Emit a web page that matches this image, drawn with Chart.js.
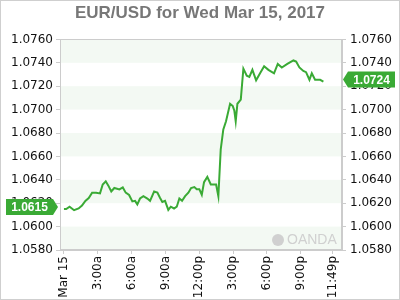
<!DOCTYPE html>
<html>
<head>
<meta charset="utf-8">
<script src="https://cdn.jsdelivr.net/npm/chart.js@4"></script>
<style>
  html, body { margin: 0; padding: 0; background: #fff; }
  #wrap { width: 400px; height: 300px; position: relative; }
</style>
</head>
<body>
<div id="wrap"><canvas id="chart"></canvas></div>
<script>
// hours since midnight, Mar 15
const times = [0, 0.2, 0.5, 0.9, 1.3, 1.6, 1.9, 2.2, 2.5, 2.85, 3.2, 3.44, 3.71, 3.94, 4.2, 4.47,
  4.92, 5.22, 5.48, 5.78, 6.07, 6.31, 6.51, 6.75, 7.05, 7.4, 7.64, 8.0, 8.29, 8.53, 8.73, 8.97,
  9.26, 9.48, 9.77, 10.01, 10.24, 10.48, 10.75, 11.04, 11.28, 11.57, 11.78, 12.01, 12.23, 12.43,
  12.72, 13.03, 13.5, 13.7, 13.91, 14.14, 14.38, 14.74, 14.98, 15.12, 15.24, 15.39, 15.69, 15.92,
  16.22, 16.45, 16.72, 17.05, 17.4, 17.76, 18.14, 18.64, 18.97, 19.33, 19.82, 20.36, 20.6, 20.89,
  21.24, 21.48, 21.78, 21.99, 22.28, 22.73, 23.02];
const rates = [1.0615, 1.0615, 1.0617, 1.0614, 1.06155, 1.0618, 1.0622, 1.06244, 1.0629, 1.0629,
  1.06284, 1.0636, 1.06387, 1.0635, 1.0630, 1.0633, 1.06318, 1.06335, 1.0629, 1.0627, 1.06215,
  1.0622, 1.0619, 1.0624, 1.0626, 1.0624, 1.0622, 1.0630, 1.0629, 1.06244, 1.0621, 1.0622,
  1.06143, 1.0617, 1.06155, 1.0617, 1.0624, 1.0622, 1.0626, 1.0629, 1.0633, 1.06338, 1.0632,
  1.0632, 1.06272, 1.0638, 1.06425, 1.0636, 1.0636, 1.0626, 1.0666, 1.0683, 1.0690, 1.0705,
  1.0703, 1.0699, 1.0690, 1.0705, 1.07085, 1.0735, 1.0729, 1.0728, 1.0734, 1.0725, 1.0731,
  1.0737, 1.0734, 1.0731, 1.0739, 1.0736, 1.0739, 1.0742, 1.0741, 1.0736, 1.0733, 1.0732,
  1.07255, 1.0731, 1.07255, 1.07255, 1.0724];

const yTicks = [1.058, 1.060, 1.062, 1.064, 1.066, 1.068, 1.070, 1.072, 1.074, 1.076];
const xTickHours = [0, 3, 6, 9, 12, 15, 18, 21, 23.82];
const xTickLabels = ['Mar 15', '3:00a', '6:00a', '9:00a', '12:00p', '3:00p', '6:00p', '9:00p', '11:49p'];

const green = '#3aaa35';

Chart.defaults.font.family = 'DejaVu Sans';
Chart.defaults.font.size = 12;
Chart.defaults.color = '#111';

function setYTicks(scale) {
  scale.ticks = yTicks.map(v => ({ value: v }));
}

const bands = {
  id: 'bands',
  beforeDraw(chart) {
    const { ctx, chartArea: a, scales: { y } } = chart;
    ctx.save();
    const desc = yTicks.slice().reverse();
    for (let i = 0; i < desc.length - 1; i++) {
      if (i % 2 !== 0) continue;
      const t = y.getPixelForValue(desc[i]);
      const b = y.getPixelForValue(desc[i + 1]);
      ctx.fillStyle = '#f3f9f3';
      ctx.fillRect(a.left, t, a.right - a.left, b - t);
    }
    ctx.restore();
  }
};

function marker(ctx, x, y, text, pointLeft) {
  const w = 47, h = 16, tip = 5;
  ctx.save();
  ctx.fillStyle = green;
  ctx.beginPath();
  if (pointLeft) {
    ctx.moveTo(x, y);
    ctx.lineTo(x + tip, y - h / 2);
    ctx.lineTo(x + tip + w, y - h / 2);
    ctx.lineTo(x + tip + w, y + h / 2);
    ctx.lineTo(x + tip, y + h / 2);
  } else {
    ctx.moveTo(x, y);
    ctx.lineTo(x - tip, y - h / 2);
    ctx.lineTo(x - tip - w, y - h / 2);
    ctx.lineTo(x - tip - w, y + h / 2);
    ctx.lineTo(x - tip, y + h / 2);
  }
  ctx.closePath();
  ctx.fill();
  ctx.fillStyle = '#fff';
  ctx.font = 'bold 12px "Liberation Sans", Arial, sans-serif';
  ctx.textAlign = 'center';
  ctx.textBaseline = 'middle';
  const cx = pointLeft ? x + tip + w / 2 : x - tip - w / 2;
  ctx.fillText(text, cx, y + 1);
  ctx.restore();
}

const extras = {
  id: 'extras',
  afterDraw(chart) {
    const { ctx, chartArea: a, scales: { y } } = chart;
    ctx.save();
    // plot frame
    ctx.strokeStyle = '#ccc';
    ctx.lineWidth = 1;
    ctx.strokeRect(Math.round(a.left) + 0.5, Math.round(a.top) + 0.5,
      Math.round(a.right - a.left) - 1, Math.round(a.bottom - a.top) - 1);
    // outer frame
    ctx.strokeStyle = '#cfcfcf';
    ctx.strokeRect(0.5, 0.5, chart.width - 1, chart.height - 1);
    // watermark
    ctx.fillStyle = '#d0d0d0';
    ctx.beginPath();
    ctx.arc(a.right - 64, a.bottom - 10, 6, 0, Math.PI * 2);
    ctx.fill();
    ctx.font = '14px "Liberation Sans", Arial, sans-serif';
    ctx.textBaseline = 'middle';
    ctx.textAlign = 'left';
    ctx.fillText('OANDA', a.right - 55, a.bottom - 10);
    ctx.restore();

    const first = rates[0], last = rates[rates.length - 1];
    marker(ctx, a.left - 2, y.getPixelForValue(first) - 2, first.toFixed(4), false);
    marker(ctx, a.right + 1, y.getPixelForValue(last) - 2, last.toFixed(4), true);
  }
};

new Chart(document.getElementById('chart'), {
  type: 'line',
  data: {
    datasets: [{
      data: times.map((t, i) => ({ x: t, y: rates[i] })),
      borderColor: green,
      borderWidth: 2,
      pointRadius: 0,
      tension: 0,
      fill: false
    }]
  },
  options: {
    responsive: true,
    maintainAspectRatio: false,
    animation: false,
    layout: { padding: 0 },
    plugins: {
      legend: { display: false },
      tooltip: { enabled: false },
      title: {
        display: true,
        text: 'EUR/USD for Wed Mar 15, 2017',
        color: '#777',
        font: { family: '"Liberation Sans", Arial, sans-serif', size: 17, weight: 'bold' },
        padding: { top: 3, bottom: 16 }
      }
    },
    scales: {
      x: {
        type: 'linear',
        min: -0.35,
        max: 24.67,
        afterBuildTicks(scale) {
          scale.ticks = xTickHours.map(v => ({ value: v }));
        },
        afterFit(scale) { scale.height = 50; },
        ticks: {
          autoSkip: false,
          minRotation: 90,
          maxRotation: 90,
          padding: 2,
          callback: (v, i) => xTickLabels[i]
        },
        grid: { drawOnChartArea: false, drawTicks: true, tickLength: 4, color: '#ccc' },
        border: { color: '#ccc' }
      },
      y: {
        position: 'left',
        min: 1.058,
        max: 1.076,
        afterBuildTicks: setYTicks,
        afterFit(scale) { scale.width = 60; },
        ticks: { padding: 3, callback: v => v.toFixed(4) },
        grid: { drawOnChartArea: false, drawTicks: true, tickLength: 4, color: '#ccc' },
        border: { color: '#ccc' }
      },
      y2: {
        position: 'right',
        min: 1.058,
        max: 1.076,
        afterBuildTicks: setYTicks,
        afterFit(scale) { scale.width = 58; },
        ticks: { padding: 4, callback: v => v.toFixed(4) },
        grid: { drawOnChartArea: false, drawTicks: true, tickLength: 4, color: '#ccc' },
        border: { color: '#ccc' }
      }
    }
  },
  plugins: [bands, extras]
});
</script>
</body>
</html>
